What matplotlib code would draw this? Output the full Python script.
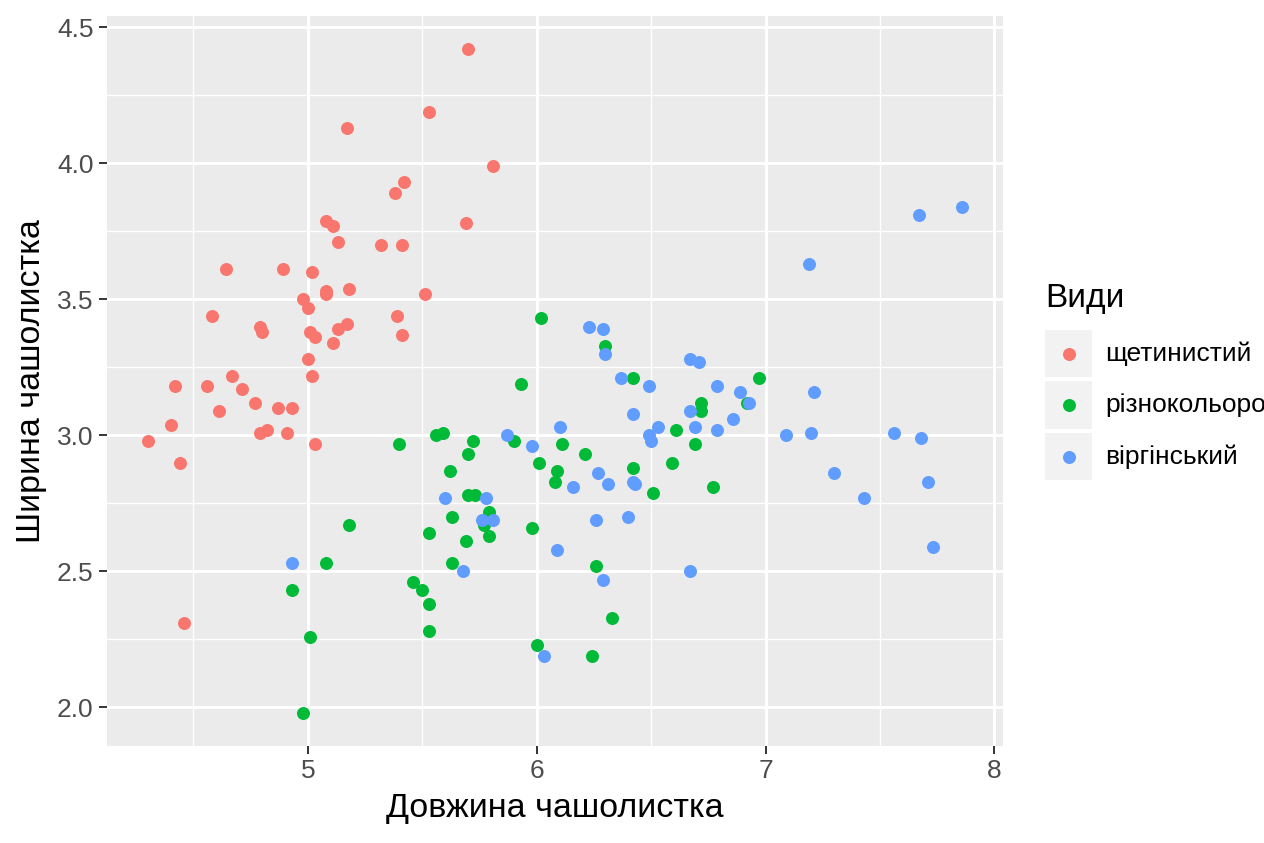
import matplotlib
matplotlib.use("Agg")
import matplotlib.pyplot as plt
from matplotlib.lines import Line2D
from matplotlib.patches import Rectangle
import numpy as np

plt.rcParams['font.family'] = ['Liberation Sans', 'DejaVu Sans']

# ---- data (jittered iris) ----
species = ["щетинистий", "різнокольоровий", "віргінський"]
colors = ["#F8766D", "#00BA38", "#619CFF"]

setosa_x = [5.70, 5.53, 5.17, 5.81, 5.42, 5.38, 5.69, 5.08, 5.11, 5.13, 5.32, 5.41,
            4.64, 4.89, 5.02, 5.08, 5.08, 5.18, 4.98, 5.51, 5.00, 4.58, 5.39,
            5.01, 5.03, 5.13, 5.17, 5.11, 5.41, 4.79, 4.80, 5.00, 5.02, 4.67,
            4.56, 4.42, 4.71, 4.77, 4.61, 4.87, 4.93, 4.40, 4.79, 4.82, 4.91,
            4.30, 5.03, 4.44, 4.46]
setosa_y = [4.42, 4.19, 4.13, 3.99, 3.93, 3.89, 3.78, 3.79, 3.77, 3.71, 3.70, 3.70,
            3.61, 3.61, 3.60, 3.53, 3.52, 3.54, 3.50, 3.52, 3.47, 3.44, 3.44,
            3.38, 3.36, 3.39, 3.41, 3.34, 3.37, 3.40, 3.38, 3.28, 3.22, 3.22,
            3.18, 3.18, 3.17, 3.12, 3.09, 3.10, 3.10, 3.04, 3.01, 3.02, 3.01,
            2.98, 2.97, 2.90, 2.31]

versicolor_x = [6.02, 6.30, 5.93, 6.42, 6.97, 6.72, 6.72, 6.92, 6.61, 6.69, 6.59,
                6.11, 6.21, 6.01, 6.09, 6.08, 6.42, 6.51, 6.77, 5.90, 5.40, 5.56,
                5.59, 5.72, 5.70, 5.62, 5.70, 5.73, 5.79, 5.77, 5.63, 5.53, 5.79,
                5.69, 5.98, 5.18, 5.08, 5.63, 4.93, 5.46, 5.50, 5.53, 5.01, 5.53,
                6.00, 4.98, 6.26, 6.33, 6.24]
versicolor_y = [3.43, 3.33, 3.19, 3.21, 3.21, 3.12, 3.09, 3.12, 3.02, 2.97, 2.90,
                2.97, 2.93, 2.90, 2.87, 2.83, 2.88, 2.79, 2.81, 2.98, 2.97, 3.00,
                3.01, 2.98, 2.93, 2.87, 2.78, 2.78, 2.72, 2.67, 2.70, 2.64, 2.63,
                2.61, 2.66, 2.67, 2.53, 2.53, 2.43, 2.46, 2.43, 2.38, 2.26, 2.28,
                2.23, 1.98, 2.52, 2.33, 2.19]

virginica_x = [6.23, 6.29, 6.30, 6.37, 6.49, 6.67, 6.71, 6.79, 6.89, 6.93, 6.42,
               6.67, 6.53, 6.49, 6.50, 6.69, 6.79, 6.86, 6.10, 5.98, 6.27, 6.31,
               6.16, 6.42, 6.43, 6.26, 6.40, 5.87, 5.60, 5.78, 5.76, 5.81, 5.68,
               4.93, 6.03, 6.09, 6.29, 6.67, 7.67, 7.86, 7.19, 7.21, 7.09, 7.20,
               7.56, 7.68, 7.30, 7.43, 7.71, 7.73]
virginica_y = [3.40, 3.39, 3.30, 3.21, 3.18, 3.28, 3.27, 3.18, 3.16, 3.12, 3.08,
               3.09, 3.03, 3.00, 2.98, 3.03, 3.02, 3.06, 3.03, 2.96, 2.86, 2.82,
               2.81, 2.83, 2.82, 2.69, 2.70, 3.00, 2.77, 2.77, 2.69, 2.69, 2.50,
               2.53, 2.19, 2.58, 2.47, 2.50, 3.81, 3.84, 3.63, 3.16, 3.00, 3.01,
               3.01, 2.99, 2.86, 2.77, 2.83, 2.59]

x_ticks = [5, 6, 7, 8]
x_tick_labels = ["5", "6", "7", "8"]
y_ticks = [2.0, 2.5, 3.0, 3.5, 4.0, 4.5]
y_tick_labels = ["2.0", "2.5", "3.0", "3.5", "4.0", "4.5"]
x_minor = [4.5, 5.5, 6.5, 7.5]
y_minor = [2.25, 2.75, 3.25, 3.75, 4.25]

x_title = "Довжина чашолистка"
y_title = "Ширина чашолистка"
legend_title = "Види"

series = [(setosa_x, setosa_y), (versicolor_x, versicolor_y), (virginica_x, virginica_y)]

# ---- figure ----
W, H = 1264, 843
fig = plt.figure(figsize=(W / 100, H / 100), dpi=100)
fig.patch.set_facecolor("white")

left, right, top, bottom = 107, 1003, 16, 746
ax = fig.add_axes([left / W, 1 - bottom / H, (right - left) / W, (bottom - top) / H])
ax.set_facecolor("#EBEBEB")
for s in ax.spines.values():
    s.set_visible(False)

pt_size = (13 / 1.389) ** 2
for (xs, ys), c in zip(series, colors):
    ax.scatter(xs, ys, s=pt_size, c=c, linewidths=0, zorder=3)

allx = np.concatenate([np.array(a) for a, _ in series])
ally = np.concatenate([np.array(b) for _, b in series])
rx = allx.max() - allx.min()
ry = ally.max() - ally.min()
ax.set_xlim(allx.min() - 0.05 * rx, allx.max() + 0.05 * rx)
ax.set_ylim(ally.min() - 0.05 * ry, ally.max() + 0.05 * ry)

ax.set_xticks(x_ticks, x_tick_labels)
ax.set_yticks(y_ticks, y_tick_labels)
ax.set_xticks(x_minor, minor=True)
ax.set_yticks(y_minor, minor=True)
ax.set_axisbelow(True)
ax.grid(which="major", color="white", linewidth=2.1)
ax.grid(which="minor", color="white", linewidth=1.0)
ax.tick_params(which="major", length=5.7, width=1.4, color="#333333",
               labelsize=19, labelcolor="#4D4D4D", pad=4)
ax.tick_params(which="minor", length=0)

ax.set_xlabel(x_title, fontsize=24.5, color="black", labelpad=7)
ax.set_ylabel(y_title, fontsize=24.5, color="black", labelpad=7)

# ---- legend (ggplot style) ----
def fx(px):
    return px / W

def fy(py):
    return 1 - py / H

fig.text(fx(1045), fy(298), legend_title, fontsize=24, color="black",
         ha="left", va="center")
key_top = 330
key_h = 47
key_step = 51.5
for i, (name, c) in enumerate(zip(species, colors)):
    ty = key_top + i * key_step
    fig.add_artist(Rectangle((fx(1045), fy(ty + key_h)), 47 / W, key_h / H,
                             transform=fig.transFigure, facecolor="#F2F2F2",
                             edgecolor="none"))
    cy = ty + key_h / 2
    fig.add_artist(Line2D([fx(1068.5)], [fy(cy)], marker="o", markersize=13 / 1.389,
                          markerfacecolor=c, markeredgewidth=0, linestyle="none",
                          transform=fig.transFigure))
    fig.text(fx(1105), fy(cy), name, fontsize=19, color="black",
             ha="left", va="center")

fig.savefig("out.png", dpi=100)
